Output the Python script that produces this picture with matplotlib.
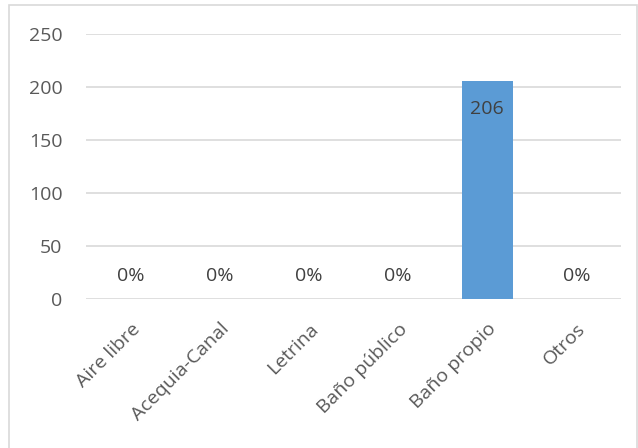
import matplotlib.pyplot as plt
from matplotlib.patches import Rectangle

categorias = ["Aire libre", "Acequia-Canal", "Letrina", "Baño público", "Baño propio", "Otros"]
valores = [0, 0, 0, 0, 206, 0]
etiquetas = ["0%", "0%", "0%", "0%", "206", "0%"]

plt.rcParams['font.family'] = ['Open Sans', 'DejaVu Sans']
texto = '#595959'

fig = plt.figure(figsize=(6.38, 4.48), dpi=100)
ax = fig.add_axes([86 / 638, 1 - 299 / 448, (621 - 86) / 638, (299 - 34) / 448])

x = range(len(categorias))
ax.bar(x, valores, width=0.57, color='#5B9BD5', zorder=3)

for i, (v, lab) in enumerate(zip(valores, etiquetas)):
    if v > 0:
        ax.text(i, v - 27, lab, ha='center', va='center', fontsize=14, color='#404040', zorder=4)
    else:
        ax.text(i, 22, lab, ha='center', va='center', fontsize=14, color='#404040')

ax.set_xlim(-0.5, len(categorias) - 0.5)
ax.set_ylim(0, 250)
ax.set_yticks(range(0, 251, 50))
ax.set_xticks(list(x))
ax.set_xticklabels(categorias, rotation=45, ha='right', rotation_mode='anchor')
ax.tick_params(axis='x', length=0, pad=15, labelsize=14, colors=texto)
ax.tick_params(axis='y', length=0, pad=17, labelsize=14, colors=texto)
ax.grid(axis='y', color='#D9D9D9', linewidth=1.2, zorder=0)
for s in ax.spines.values():
    s.set_visible(False)

fig.patches.append(Rectangle((9 / 638, -0.01), 628 / 638, 1 - 5 / 448 + 0.01,
                             transform=fig.transFigure, fill=False,
                             edgecolor='#D9D9D9', linewidth=1.2))

fig.savefig('out.png', dpi=100)
